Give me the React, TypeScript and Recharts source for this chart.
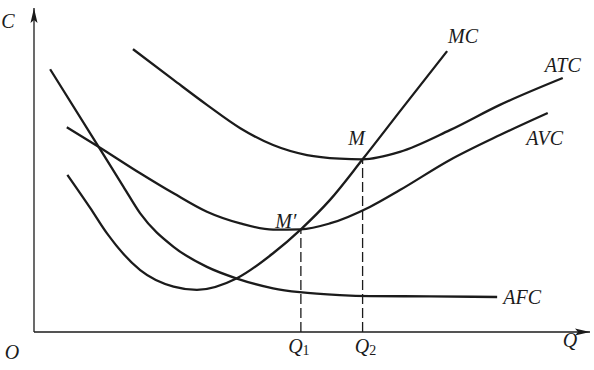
import { LineChart, Line, XAxis, YAxis, ReferenceLine, ReferenceDot } from 'recharts';

// cost curves (Q and C on a 0-100 scale)
const afc = [
  { q: 2.9, c: 81.1 }, { q: 11.6, c: 57.2 }, { q: 16.1, c: 44.8 }, { q: 19.1, c: 36.6 },
  { q: 25.1, c: 26.3 }, { q: 31.1, c: 20.1 }, { q: 36.5, c: 16.5 }, { q: 43.0, c: 13.5 },
  { q: 47.8, c: 12.3 }, { q: 55.0, c: 11.4 }, { q: 60.4, c: 11.1 }, { q: 71.2, c: 11.0 },
  { q: 83.3, c: 10.8 },
];
const mc = [
  { q: 6.0, c: 48.5 }, { q: 10.1, c: 38.3 }, { q: 13.1, c: 30.5 }, { q: 19.1, c: 19.1 },
  { q: 25.1, c: 14.0 }, { q: 29.3, c: 13.0 }, { q: 36.5, c: 16.6 }, { q: 43.0, c: 24.3 },
  { q: 48.0, c: 31.7 }, { q: 53.2, c: 40.7 }, { q: 59.1, c: 53.3 }, { q: 66.4, c: 69.4 },
  { q: 74.3, c: 86.7 },
];
const avc = [
  { q: 5.9, c: 63.2 }, { q: 11.6, c: 57.2 }, { q: 19.1, c: 49.0 }, { q: 25.1, c: 42.8 },
  { q: 31.1, c: 37.1 }, { q: 37.1, c: 33.5 }, { q: 43.0, c: 31.6 }, { q: 48.0, c: 31.7 },
  { q: 53.2, c: 33.5 }, { q: 60.4, c: 38.6 }, { q: 65.8, c: 43.8 }, { q: 74.8, c: 53.1 },
  { q: 83.8, c: 60.8 }, { q: 92.4, c: 67.6 },
];
const atc = [
  { q: 17.8, c: 87.3 }, { q: 25.1, c: 77.8 }, { q: 31.1, c: 70.1 }, { q: 37.1, c: 62.9 },
  { q: 43.0, c: 57.7 }, { q: 49.1, c: 54.6 }, { q: 55.0, c: 53.5 }, { q: 59.1, c: 53.3 },
  { q: 65.8, c: 55.6 }, { q: 74.8, c: 62.3 }, { q: 83.8, c: 70.1 }, { q: 95.1, c: 78.4 },
];

// M' (min of AVC) and M (min of ATC)
const q1 = 48.0, cM1 = 31.7;
const q2 = 59.1, cM2 = 53.3;

const curves = [afc, mc, avc, atc];
const last = (d: { q: number; c: number }[]) => d[d.length - 1];

const labels = [
  { text: 'C', q: 0, c: 100, dx: -26, dy: 20 },
  { text: 'O', q: 0, c: 0, dx: -22, dy: 27 },
  { text: 'Q', q: 100, c: 0, dx: -20, dy: 15 },
  { text: 'M′', q: q1, c: cM1, dx: -15, dy: -1 },
  { text: 'M', q: q2, c: cM2, dx: -6, dy: -14 },
  { text: 'MC', q: last(mc).q, c: last(mc).c, dx: 16, dy: -8 },
  { text: 'ATC', q: last(atc).q, c: last(atc).c, dx: 0, dy: -6 },
  { text: 'AVC', q: last(avc).q, c: last(avc).c, dx: -3, dy: 32 },
  { text: 'AFC', q: last(afc).q, c: last(afc).c, dx: 25, dy: 7 },
];
const qLabels = [
  { sub: '1', q: q1, dx: -2 },
  { sub: '2', q: q2, dx: 3 },
];

const ink = '#1b1b1b';
const font = { fontFamily: '"Liberation Serif", serif', fontStyle: 'italic', fontSize: 20, fill: ink };

export default function App() {
  return (
    <div style={{ position: 'absolute', left: 0, top: 0, background: '#fff' }}>
      <LineChart width={594} height={370} margin={{ top: 8, right: 4, bottom: 38, left: 34 }}>
        <XAxis dataKey="q" type="number" domain={[0, 100]} hide />
        <YAxis dataKey="c" type="number" domain={[0, 100]} hide />
        <ReferenceLine x={0} stroke={ink} strokeWidth={1.3} />
        <ReferenceLine y={0} stroke={ink} strokeWidth={1.3} />
        <ReferenceDot x={0} y={100} shape={(p: any) => (
          <polygon points={`${p.cx},${p.cy} ${p.cx - 3.5},${p.cy + 15} ${p.cx},${p.cy + 12} ${p.cx + 3.5},${p.cy + 15}`} fill={ink} />
        )} />
        <ReferenceDot x={100} y={0} shape={(p: any) => (
          <polygon points={`${p.cx},${p.cy} ${p.cx - 15},${p.cy - 3.5} ${p.cx - 12},${p.cy} ${p.cx - 15},${p.cy + 3.5}`} fill={ink} />
        )} />
        <ReferenceLine segment={[{ x: q1, y: 0 }, { x: q1, y: cM1 }]} stroke={ink} strokeWidth={1.3} strokeDasharray="10 4" />
        <ReferenceLine segment={[{ x: q2, y: 0 }, { x: q2, y: cM2 }]} stroke={ink} strokeWidth={1.3} strokeDasharray="10 4" />
        {curves.map((d, i) => (
          <Line key={i} data={d} dataKey="c" type="monotone" stroke={ink} strokeWidth={2.3}
            dot={false} activeDot={false} isAnimationActive={false} />
        ))}
        {labels.map(l => (
          <ReferenceDot key={l.text} x={l.q} y={l.c} shape={(p: any) => (
            <text x={p.cx + l.dx} y={p.cy + l.dy} textAnchor="middle" style={font}>{l.text}</text>
          )} />
        ))}
        {qLabels.map(l => (
          <ReferenceDot key={l.sub} x={l.q} y={0} shape={(p: any) => (
            <text x={p.cx + l.dx} y={p.cy + 21} textAnchor="middle" style={font}>
              Q<tspan style={{ fontStyle: 'normal', fontSize: 14 }} dy={2}>{l.sub}</tspan>
            </text>
          )} />
        ))}
      </LineChart>
    </div>
  );
}
